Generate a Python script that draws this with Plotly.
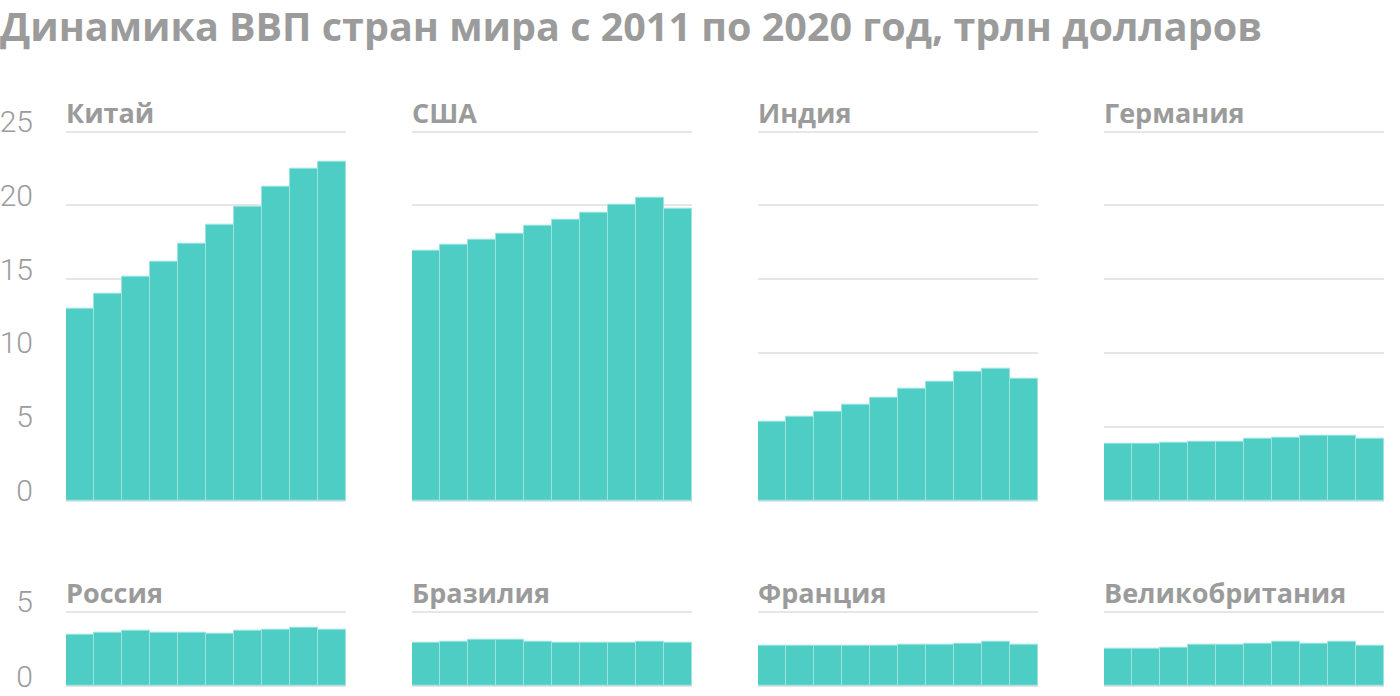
import plotly.graph_objects as go

years = [str(y) for y in range(2011, 2021)]
countries = ["Китай", "США", "Индия", "Германия", "Россия", "Бразилия", "Франция", "Великобритания"]
china = [13.0, 14.0, 15.2, 16.2, 17.4, 18.7, 19.95, 21.3, 22.5, 22.95]
usa = [16.95, 17.35, 17.7, 18.1, 18.65, 19.05, 19.5, 20.05, 20.5, 19.75]
india = [5.35, 5.7, 6.05, 6.5, 6.95, 7.6, 8.05, 8.7, 8.95, 8.25]
germany = [3.82, 3.82, 3.9, 4.0, 4.0, 4.18, 4.27, 4.38, 4.38, 4.18]
russia = [3.42, 3.62, 3.71, 3.62, 3.62, 3.54, 3.71, 3.81, 3.9, 3.81]
brazil = [2.93, 3.01, 3.1, 3.1, 3.01, 2.93, 2.93, 2.93, 3.01, 2.93]
france = [2.7, 2.7, 2.7, 2.7, 2.7, 2.79, 2.79, 2.88, 2.97, 2.79]
uk = [2.52, 2.52, 2.61, 2.79, 2.79, 2.88, 2.97, 2.88, 2.97, 2.7]
series = [china, usa, india, germany, russia, brazil, france, uk]
top_ticks = [0, 5, 10, 15, 20, 25]
bottom_ticks = [0, 5]
title = "Динамика ВВП стран мира с 2011 по 2020 год, трлн долларов"

W, H = 1400, 696
col_left = [66, 412, 758, 1104]
col_w = 280
row_px = [(131.7, 500.5), (611.7, 686.0)]
PADPX = 5  # keep edge gridlines inside the plot area

BAR = "#4ecdc4"
GRID = "#e6e6e6"
GRAY = "#9b9b9b"
TFONT = "Open Sans"
NFONT = "Roboto"

fig = go.Figure()
layout = dict(
    width=W, height=H, margin=dict(l=0, r=0, t=0, b=0, autoexpand=False),
    paper_bgcolor="white", plot_bgcolor="white", showlegend=False,
    bargap=0, annotations=[],
)
for i, (name, vals) in enumerate(zip(countries, series)):
    r, c = divmod(i, 4)
    n = i + 1
    xa = "x" if n == 1 else f"x{n}"
    ya = "y" if n == 1 else f"y{n}"
    fig.add_trace(go.Bar(
        x=years, y=vals, xaxis=xa, yaxis=ya,
        marker=dict(color=BAR, line=dict(color="#9fe3de", width=1)),
        hoverinfo="x+y",
    ))
    top, bot = row_px[r]
    ticks = top_ticks if r == 0 else bottom_ticks
    scale = (bot - top) / ticks[-1]
    pad = PADPX / scale
    layout["xaxis" + ("" if n == 1 else str(n))] = dict(
        domain=[col_left[c] / W, (col_left[c] + col_w) / W],
        anchor=ya, showticklabels=False, showgrid=False, zeroline=False,
        showline=False, ticks="", range=[-0.5, 9.5], fixedrange=True,
        automargin=False,
    )
    layout["yaxis" + ("" if n == 1 else str(n))] = dict(
        domain=[max(0, 1 - (bot + PADPX) / H), 1 - (top - PADPX) / H], anchor=xa,
        range=[-pad, ticks[-1] + pad], tickvals=ticks,
        showticklabels=(c == 0), showgrid=True, gridcolor=GRID, gridwidth=2,
        zeroline=False, showline=False, ticks="",
        ticklabelshift=-10, ticklabelstandoff=32, automargin=False,
        tickfont=dict(family=NFONT, size=30, color=GRAY, weight=300),
        fixedrange=True,
    )
    layout["annotations"].append(dict(
        text=f"<b>{name}</b>", xref=f"{xa} domain", yref=f"{ya} domain",
        x=0, y=1, xanchor="left", yanchor="middle", yshift=19 - PADPX, showarrow=False,
        xshift=-2, font=dict(family=TFONT, size=27, color=GRAY),
    ))
layout["annotations"].append(dict(
    text=f"<b>{title}</b>", xref="paper", yref="paper",
    x=0, y=1 - 25.5 / H, xanchor="left", yanchor="middle", showarrow=False,
    xshift=-2, font=dict(family=TFONT, size=39.5, color=GRAY),
))
fig.update_layout(**layout)
fig.write_html("out.html")
